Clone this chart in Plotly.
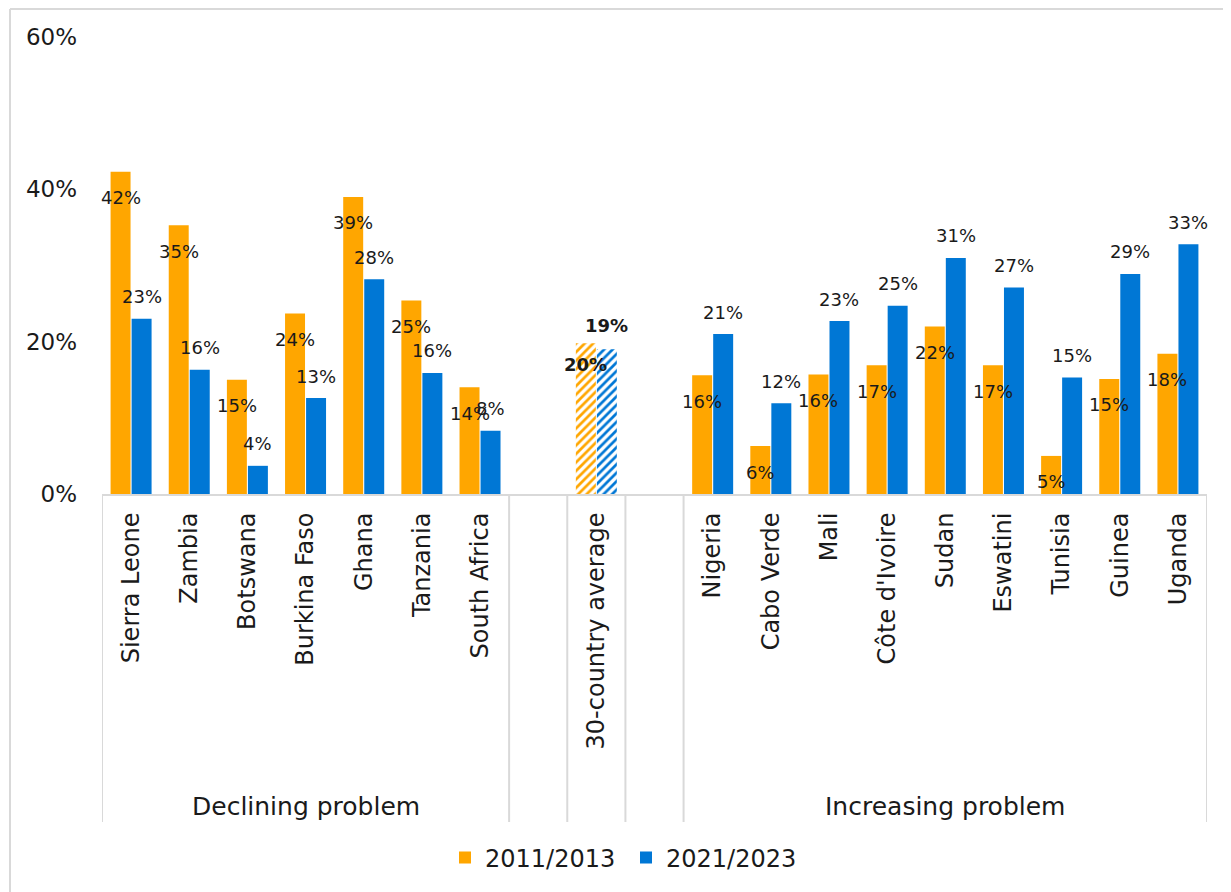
import plotly.graph_objects as go

# ---- data ----
declining = ["Sierra Leone", "Zambia", "Botswana", "Burkina Faso", "Ghana", "Tanzania", "South Africa"]
declining_2011 = [0.423, 0.353, 0.15, 0.237, 0.39, 0.254, 0.14]
declining_2021 = [0.23, 0.163, 0.037, 0.126, 0.282, 0.159, 0.083]

average_label = ["30-country average"]
average_2011 = [0.198]
average_2021 = [0.19]

increasing = ["Nigeria", "Cabo Verde", "Mali", "Côte d'Ivoire", "Sudan", "Eswatini", "Tunisia", "Guinea", "Uganda"]
increasing_2011 = [0.156, 0.063, 0.157, 0.169, 0.22, 0.169, 0.05, 0.151, 0.184]
increasing_2021 = [0.21, 0.119, 0.227, 0.247, 0.31, 0.271, 0.153, 0.289, 0.328]

group_labels = ["Declining problem", "Increasing problem"]
series_names = ["2011/2013", "2021/2023"]
y_ticks = [0, 0.2, 0.4, 0.6]

# ---- styling ----
ORANGE = "#FFA600"
BLUE = "#0077D5"
FONT = "DejaVu Sans"
TXT = "#1a1a1a"
GRID = "#d9d9d9"
BARGAP = 0.277
BARGROUPGAP = 0.05
OFF = 8  # page body margin offset

# category positions (blank slots around the average)
x_dec = list(range(len(declining)))
x_avg = [len(declining) + 1]
x_inc = [x_avg[0] + 2 + i for i in range(len(increasing))]
n_slots = x_inc[-1] + 1

fig = go.Figure()
fig.add_trace(go.Bar(x=x_dec + x_inc, y=declining_2011 + increasing_2011, name=series_names[0],
                     marker=dict(color=ORANGE, line=dict(width=0)), offsetgroup="a"))
fig.add_trace(go.Bar(x=x_dec + x_inc, y=declining_2021 + increasing_2021, name=series_names[1],
                     marker=dict(color=BLUE, line=dict(width=0)), offsetgroup="b"))
fig.add_trace(go.Bar(x=x_avg, y=average_2011, showlegend=False, offsetgroup="a",
                     marker=dict(color="white", line=dict(width=0),
                                 pattern=dict(shape="/", fgcolor=ORANGE, bgcolor="white", fgopacity=1,
                                              size=6, solidity=0.45, fillmode="replace"))))
fig.add_trace(go.Bar(x=x_avg, y=average_2021, showlegend=False, offsetgroup="b",
                     marker=dict(color="white", line=dict(width=0),
                                 pattern=dict(shape="/", fgcolor=BLUE, bgcolor="white", fgopacity=1,
                                              size=6, solidity=0.45, fillmode="replace"))))

# plot geometry (target pixel positions in the screenshot)
W, H = 1231, 892
px_left, px_right, px_top, px_bottom = 102, 1207, 37, 494
L = px_left - OFF
T = px_top - OFF
R = W - (px_right - OFF)
B = H - (px_bottom - OFF)
plot_w = px_right - px_left
plot_h = px_bottom - px_top
slot_px = plot_w / n_slots
bar_off_px = (1 - BARGAP) / 4 * slot_px


def py_paper(px_y):
    return (px_bottom - px_y) / plot_h


def px_paper(px_x):
    return (px_x - px_left) / plot_w


annotations = []


def add_labels(xs, vals, shift_y, shift_x, bold=False):
    for x, v in zip(xs, vals):
        t = f"{v:.0%}"
        if bold:
            t = f"<b>{t}</b>"
        annotations.append(dict(x=x, y=v, xref="x", yref="y", text=t, showarrow=False,
                                xshift=shift_x, yshift=shift_y, yanchor="middle",
                                font=dict(family=FONT, size=18, color=TXT)))


add_labels(x_dec + x_inc, declining_2011 + increasing_2011, -26, -bar_off_px)
add_labels(x_dec + x_inc, declining_2021 + increasing_2021, 22, bar_off_px)
add_labels(x_avg, average_2011, -21, -bar_off_px, bold=True)
add_labels(x_avg, average_2021, 24, bar_off_px, bold=True)

# group labels
label_y = py_paper(806)
annotations.append(dict(x=(x_dec[0] + x_dec[-1]) / 2, y=label_y, xref="x", yref="paper",
                        yanchor="middle", text=group_labels[0], showarrow=False,
                        font=dict(family=FONT, size=25, color=TXT)))
annotations.append(dict(x=(x_inc[0] + x_inc[-1]) / 2, y=label_y, xref="x", yref="paper",
                        yanchor="middle", text=group_labels[1], showarrow=False,
                        font=dict(family=FONT, size=25, color=TXT)))

# separators between groups
sep_bottom = py_paper(822)
bounds = [x_dec[0] - 0.5, x_dec[-1] + 0.5, x_avg[0] - 0.5, x_avg[0] + 0.5, x_inc[0] - 0.5, x_inc[-1] + 0.5]
shapes = []
for b in bounds:
    shapes.append(dict(type="line", xref="x", yref="paper", x0=b, x1=b, y0=0, y1=sep_bottom,
                       line=dict(color=GRID, width=2)))

# outer border (left and top)
bx0 = px_paper(10)
by1 = py_paper(9)
shapes.append(dict(type="line", xref="paper", yref="paper", x0=bx0, x1=bx0, y0=by1, y1=-2,
                   line=dict(color=GRID, width=2)))
shapes.append(dict(type="line", xref="paper", yref="paper", x0=bx0, x1=2, y0=by1, y1=by1,
                   line=dict(color=GRID, width=2)))

tick_pos = x_dec + x_avg + x_inc
tick_txt = declining + average_label + increasing

fig.update_layout(
    width=W, height=H,
    margin=dict(l=L, r=R, t=T, b=B),
    paper_bgcolor="white", plot_bgcolor="white",
    barmode="group", bargap=BARGAP, bargroupgap=BARGROUPGAP,
    font=dict(family=FONT, size=23, color=TXT),
    showlegend=True,
    legend=dict(orientation="h", x=px_paper(626), xanchor="center", y=py_paper(858),
                yanchor="middle", font=dict(family=FONT, size=24, color=TXT),
                itemwidth=30, entrywidth=136, entrywidthmode="pixels", tracegroupgap=0),
    annotations=annotations,
    shapes=shapes,
    xaxis=dict(range=[-0.5, n_slots - 0.5], tickmode="array", tickvals=tick_pos, ticktext=tick_txt,
               tickangle=-90, showgrid=False, zeroline=False, showline=True, linecolor=GRID,
               linewidth=2, ticks="", ticklabelstandoff=7,
               tickfont=dict(family=FONT, size=24, color=TXT)),
    yaxis=dict(range=[0, 0.6], tickmode="array", tickvals=y_ticks,
               ticktext=[f"{v:.0%}" for v in y_ticks], showgrid=False, zeroline=False,
               showline=False, ticks="", ticklabelstandoff=24,
               tickfont=dict(family=FONT, size=23, color=TXT)),
)

fig.write_html("out.html")
